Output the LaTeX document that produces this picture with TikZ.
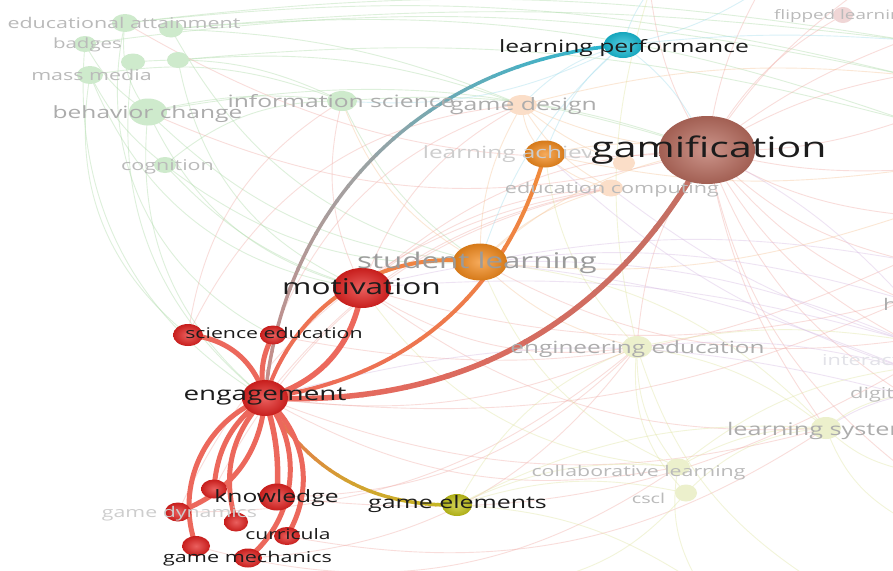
\documentclass[tikz,border=0pt]{standalone}
\usepackage{fontspec}
\newfontfamily\labfont{Open Sans}[FakeStretch=1.45]
\usetikzlibrary{shapes.geometric,calc}

% label colours
\definecolor{inkblack}{RGB}{28,28,28}
\definecolor{greyA}{RGB}{155,155,155}
\definecolor{greyB}{RGB}{172,172,172}
\definecolor{greyC}{RGB}{186,186,186}
\definecolor{greyD}{RGB}{205,205,205}
\definecolor{greyE}{RGB}{226,226,232}
% node colours
\definecolor{nodered}{RGB}{226,34,32}
\definecolor{nodeorange}{RGB}{243,138,28}
\definecolor{nodecyan}{RGB}{24,188,214}
\definecolor{nodegam}{RGB}{184,108,94}
\definecolor{nodeolive}{RGB}{196,196,24}
\definecolor{fgreen}{RGB}{206,234,204}
\definecolor{forange}{RGB}{251,222,200}
\definecolor{fyellow}{RGB}{236,240,204}
\definecolor{fpink}{RGB}{240,214,214}
% link colours
\definecolor{linkred}{RGB}{236,104,92}
\definecolor{linkrose}{RGB}{200,140,136}
\definecolor{linkgray}{RGB}{160,162,162}
\definecolor{linkcyan}{RGB}{38,182,208}
\definecolor{linkgam}{RGB}{192,112,100}
\definecolor{linkorange}{RGB}{240,140,60}
\definecolor{linkgold}{RGB}{212,160,48}
\definecolor{linkolive}{RGB}{196,186,36}
\definecolor{lg}{RGB}{170,218,165}
\definecolor{lp}{RGB}{240,170,165}
\definecolor{lo}{RGB}{246,196,150}
\definecolor{ly}{RGB}{224,228,160}
\definecolor{lv}{RGB}{214,186,226}
\definecolor{lc}{RGB}{160,220,236}

\pgfdeclarelayer{paper}\pgfdeclarelayer{fedge}\pgfdeclarelayer{fnode}\pgfdeclarelayer{hedge}
\pgfsetlayers{paper,fedge,fnode,hedge,main}

\newcommand\lsz[1]{\fontsize{#1}{#1}\selectfont}

% a link whose colour runs from #5 to #6 over the part t=#7..#8 of the chord
\newcommand\gradlink[8]{%
  \coordinate (gl-far) at ($(#1.center)!6!(#2.center)$);
  \foreach \k in {1,...,12}{%
    \pgfmathsetmacro\gta{#7+(#8-#7)*(\k-1)/12}%
    \pgfmathsetmacro\gtb{#7+(#8-#7)*\k/12+0.004}%
    \pgfmathsetmacro\gta{ifthenelse(\gta<0.0001,-0.4,\gta)}%
    \pgfmathsetmacro\gtb{ifthenelse(\gtb>0.9999,1.4,\gtb)}%
    \pgfmathsetmacro\gmx{100*(\k-0.5)/12}%
    \begin{scope}
      \coordinate (gl-a) at ($(#1.center)!\gta!(#2.center)$);
      \coordinate (gl-b) at ($(#1.center)!\gtb!(#2.center)$);
      \clip ($(gl-a)!800pt!90:(gl-far)$) -- ($(gl-b)!800pt!90:(gl-far)$)
         -- ($(gl-b)!800pt!-90:(gl-far)$) -- ($(gl-a)!800pt!-90:(gl-far)$) -- cycle;
      \draw[line width=#4, draw=#6!\gmx!#5] (#1.center) to[#3] (#2.center);
    \end{scope}}}

\begin{document}
\begin{tikzpicture}[x=1pt,y=-1pt,
  bub/.style 2 args={ellipse, draw=none, inner sep=0pt, minimum width=#1, minimum height=#2},
  hot/.style={inner color=#1!72!white, outer color=#1!88!black},
  soft/.style={fill=#1},
  lbl/.style={anchor=base, inner sep=0pt, font=\labfont},
  lblw/.style={anchor=base west, inner sep=0pt, font=\labfont},
  fl/.style={line width=0.9pt, draw=#1, draw opacity=0.4},
  hl/.style={line width=#1, draw=linkred}]

\useasboundingbox (0,0) rectangle (893,570);
\begin{pgfonlayer}{paper}
\fill[white] (0,0) rectangle (893,570);
\end{pgfonlayer}

% ---------- keyword nodes ----------
\node[bub={96}{68}, hot=nodegam] (gam) at (707,150) {};
\node[bub={38}{26}, hot=nodecyan] (lpf) at (623,45) {};
\node[bub={58}{40}, hot=nodered] (mot) at (362,288) {};
\node[bub={54}{37}, hot=nodeorange] (sl) at (480,262) {};
\node[bub={40}{27}, hot=nodeorange] (la) at (545,154) {};
\node[bub={46}{36}, hot=nodered] (eng) at (265,398) {};
\node[bub={26}{19}, hot=nodered] (sci) at (273,335) {};
\node[bub={30}{22}, hot=nodered] (scil) at (188,335) {};
\node[bub={30}{22}, hot=nodeolive] (ge) at (457,505) {};
\node[bub={36}{27}, hot=nodered] (know) at (277,497) {};
\node[bub={26}{19}, hot=nodered] (knowl) at (214,489) {};
\node[bub={26}{19}, hot=nodered] (gd) at (178,512) {};
\node[bub={24}{19}, hot=nodered] (nred) at (236,522) {};
\node[bub={26}{18}, hot=nodered] (cur) at (287,536) {};
\node[bub={28}{19}, hot=nodered] (gm) at (248,558) {};
\node[bub={28}{20}, hot=nodered] (gml) at (196,546) {};

\begin{pgfonlayer}{fnode}
\node[bub={30}{20}, soft=fgreen] (infs) at (342,101) {};
\node[bub={30}{20}, soft=forange] (gdes) at (522,105) {};
\node[bub={24}{17}, soft=forange] (ecomp) at (611,188) {};
\node[bub={22}{16}, soft=forange] (gamb) at (624,163) {};
\node[bub={38}{27}, soft=fgreen] (beh) at (148,112) {};
\node[bub={26}{18}, soft=fgreen] (edatt) at (125,23) {};
\node[bub={24}{17}, soft=fgreen] (edattb) at (171,29) {};
\node[bub={22}{16}, soft=fgreen] (badges) at (85,44) {};
\node[bub={26}{18}, soft=fgreen] (mass) at (90,75) {};
\node[bub={24}{17}, soft=fgreen] (gna) at (133,62) {};
\node[bub={22}{16}, soft=fgreen] (gnb) at (178,60) {};
\node[bub={22}{16}, soft=fgreen] (cog) at (165,165) {};
\node[bub={20}{16}, soft=fpink] (flip) at (843,15) {};
\node[bub={30}{22}, soft=fyellow] (engedu) at (637,347) {};
\node[bub={24}{17}, soft=fyellow] (collab) at (678,467) {};
\node[bub={22}{17}, soft=fyellow] (cscl) at (686,493) {};
\node[bub={30}{22}, soft=fyellow] (lsys) at (826,428) {};
\end{pgfonlayer}

% keywords lying beyond the frame
\coordinate (rA) at (905,40);  \coordinate (rB) at (905,75);
\coordinate (rC) at (905,120); \coordinate (rD) at (905,170);
\coordinate (rE) at (905,215); \coordinate (rF) at (905,260);
\coordinate (rG) at (905,300); \coordinate (rH) at (905,340);
\coordinate (rI) at (905,368); \coordinate (rJ) at (905,395);
\coordinate (rK) at (905,470); \coordinate (rL) at (905,520);
\coordinate (tA) at (760,-10); \coordinate (tB) at (860,-10);
\coordinate (tC) at (650,-10); \coordinate (tD) at (430,-10);
\coordinate (bA) at (520,585); \coordinate (bB) at (700,585);
\coordinate (bC) at (820,585);

% ---------- faint background links ----------
\begin{pgfonlayer}{fedge}
\foreach \a/\b/\g in {edatt/rA/-8, edatt/rB/-10, edattb/rA/-6, edattb/rC/-12,
  badges/rB/-10, gna/infs/-15, gnb/gdes/-12, gnb/rC/-10, mass/infs/-15,
  beh/infs/-10, beh/gam/-14, beh/sl/20, beh/mot/25, mass/mot/30, badges/eng/32,
  edatt/sci/38, gna/eng/30, cog/sl/20, cog/infs/-20, cog/mot/15, infs/sl/15,
  infs/gam/-12, edattb/gdes/-10, mass/cog/12, badges/beh/14, edatt/beh/22,
  gnb/mot/28, edattb/sl/24, beh/eng/28, mass/scil/30}
  \draw[fl=lg] (\a.center) to[bend right=\g] (\b.center);
\foreach \a/\b/\g in {mot/gam/-20, mot/gdes/-20, mot/engedu/20, mot/rG/15,
  eng/engedu/15, eng/collab/20, eng/lsys/18, sci/gdes/-25, scil/infs/-25,
  knowl/ecomp/-25, gd/engedu/20, gam/rC/10, gam/rE/12, gam/rB/-10, gam/flip/-15,
  gam/tA/-10, gam/engedu/15, gam/lsys/12, gam/rF/15, gam/beh/-20, gam/edatt/-18,
  mot/lsys/20, sl/rH/18, eng/rG/15, gml/collab/25, gm/engedu/25, cur/lsys/22,
  know/rI/18, gam/tB/-10, gam/rD/8, mot/infs/-20, sci/rF/18, scil/gdes/-30,
  gd/ecomp/-28, eng/ecomp/-20, know/engedu/22, mot/ecomp/-18,
  gam/rA/-8, gam/rG/14, gam/rH/16, gam/rJ/18, gam/tC/-12, gam/rK/20}
  \draw[fl=lp] (\a.center) to[bend right=\g] (\b.center);
\foreach \a/\b/\g in {sl/gdes/-15, sl/ecomp/-15, la/gdes/-20, sl/infs/-20,
  la/ecomp/15, sl/gam/-15, gdes/gam/10, gdes/ecomp/15, la/gam/-10, gamb/gdes/-10,
  sl/engedu/15, la/rD/10, gdes/rB/-10, sl/rE/12}
  \draw[fl=lo] (\a.center) to[bend right=\g] (\b.center);
\foreach \a/\b/\g in {engedu/lsys/-15, engedu/collab/20, engedu/cscl/25,
  collab/lsys/-15, cscl/lsys/-20, ge/collab/-15, ge/cscl/-15, ge/engedu/-20,
  engedu/rH/-10, lsys/rK/15, lsys/rJ/-15, lsys/rL/20, collab/bB/20, cscl/bA/-20,
  engedu/bC/20, engedu/tC/-15, collab/rI/-15, sl/lsys/-20, mot/collab/25,
  ge/lsys/-15, sl/collab/22, la/engedu/18, ge/bB/-15}
  \draw[fl=ly] (\a.center) to[bend right=\g] (\b.center);
\foreach \a/\b/\g in {rG/mot/15, rH/sl/12, rI/engedu/10, rJ/eng/15, rG/gam/10,
  rH/ecomp/-10, rI/la/-12, rF/sl/10, rJ/lsys/10, rH/mot/10, rI/sl/8}
  \draw[fl=lv] (\a.center) to[bend right=\g] (\b.center);
\foreach \a/\b/\g in {lpf/la/15, lpf/sl/15, lpf/gam/-15, lpf/gdes/15, lpf/tC/-10,
  lpf/tA/10, lpf/infs/-15, lpf/rA/-5}
  \draw[fl=lc] (\a.center) to[bend right=\g] (\b.center);
\end{pgfonlayer}

% ---------- links of engagement ----------
\begin{pgfonlayer}{hedge}
\gradlink{eng}{lpf}{bend left=40}{3.5pt}{linkrose}{linkgray}{0}{0.45}
\gradlink{eng}{lpf}{bend left=40}{3.5pt}{linkgray}{linkcyan}{0.45}{1}
\gradlink{eng}{gam}{bend right=32}{5.5pt}{linkred}{linkgam}{0}{1}
\gradlink{eng}{la}{bend right=33}{4pt}{linkred}{linkorange}{0}{1}
\gradlink{eng}{sl}{bend left=40}{4pt}{linkred}{linkorange}{0}{1}
\gradlink{eng}{ge}{bend right=30}{3.5pt}{linkred}{linkgold}{0}{0.5}
\gradlink{eng}{ge}{bend right=30}{3.5pt}{linkgold}{linkolive}{0.5}{1}
\draw[hl=5.5pt] (eng.center) to[bend right=33] (mot.center);
\draw[hl=5pt] (eng.center) to[bend right=35] (scil.center);
\draw[hl=5pt] (eng.center) to[bend left=20] (sci.center);
\draw[hl=5pt] (eng.center) to[bend left=33] (gd.center);
\draw[hl=5pt] (eng.center) to[bend right=25] (knowl.center);
\draw[hl=5pt] (eng.center) to[bend right=30] (nred.center);
\draw[hl=5pt] (eng.center) to[bend right=45] (gml.center);
\draw[hl=5.5pt] (eng.center) to[bend left=10] (know.center);
\draw[hl=5pt] (eng.center) to[bend left=40] (cur.center);
\draw[hl=5pt] (eng.center) to[bend left=45] (gm.center);
\end{pgfonlayer}

% ---------- labels ----------
\node[lbl, text=greyC] (t-edatt) at (124,28) {\lsz{14.8}educational attainment};
\node[lbl, text=greyC] (t-badges) at (87.5,48) {\lsz{14.1}badges};
\node[lbl, text=greyC] (t-mass) at (91.5,80) {\lsz{14.8}mass media};
\node[lbl, text=greyB] (t-beh) at (147.5,118) {\lsz{16.9}behavior change};
\node[lbl, text=greyC] (t-cog) at (167.5,170) {\lsz{14.8}cognition};
\node[lbl, text=greyB] (t-infs) at (341,107) {\lsz{17}information science};
\node[lbl, text=greyB] (t-gdes) at (523.5,110) {\lsz{17.1}game design};
\begin{scope}
  \clip (400,130) rectangle (590,175);
  \node[lbl, text=greyD] (t-la) at (545,158) {\lsz{16.8}learning achievement};
\end{scope}
\node[lbl, text=greyC] (t-ecomp) at (612,193) {\lsz{14.9}education computing};
\node[lbl, text=greyC] (t-flip) at (843,19) {\lsz{13}flipped learning};
\node[lbl, text=greyA] (t-sl) at (477,268) {\lsz{21.6}student learning};
\node[lbl, text=greyB] (t-engedu) at (637.5,353) {\lsz{16.8}engineering education};
\node[lblw, text=greyB] (t-high) at (883,310) {\lsz{16}higher education};
\node[lblw, text=greyE] (t-inter) at (822,365) {\lsz{15}interactive learning};
\node[lblw, text=greyC] (t-digi) at (850,398) {\lsz{15}digital learning};
\node[lbl, text=greyB] (t-lsys) at (826,435) {\lsz{17.4}learning systems};
\node[lbl, text=greyC] (t-collab) at (638.5,476) {\lsz{14.7}collaborative learning};
\node[lbl, text=greyC] (t-cscl) at (648.5,503) {\lsz{13.7}cscl};
\node[lbl, text=greyD] (t-gd) at (179.5,517) {\lsz{14.7}game dynamics};

\node[lbl, text=inkblack] (t-gam) at (709,157) {\lsz{28.3}gamification};
\node[lbl, text=inkblack] (t-lp) at (624,52) {\lsz{17}learning performance};
\node[lbl, text=inkblack] (t-mot) at (361.5,294) {\lsz{21.8}motivation};
\node[lbl, text=inkblack] (t-sci) at (274,338) {\lsz{14.7}science education};
\node[lbl, text=inkblack] (t-eng) at (265,400) {\lsz{19.2}engagement};
\node[lbl, text=inkblack] (t-know) at (276.5,502) {\lsz{17}knowledge};
\node[lbl, text=inkblack] (t-cur) at (288,539) {\lsz{14.5}curricula};
\node[lbl, text=inkblack] (t-gm) at (247.5,562) {\lsz{14.9}game mechanics};
\node[lbl, text=inkblack] (t-ge) at (457.5,508) {\lsz{17.2}game elements};
\end{tikzpicture}
\end{document}
